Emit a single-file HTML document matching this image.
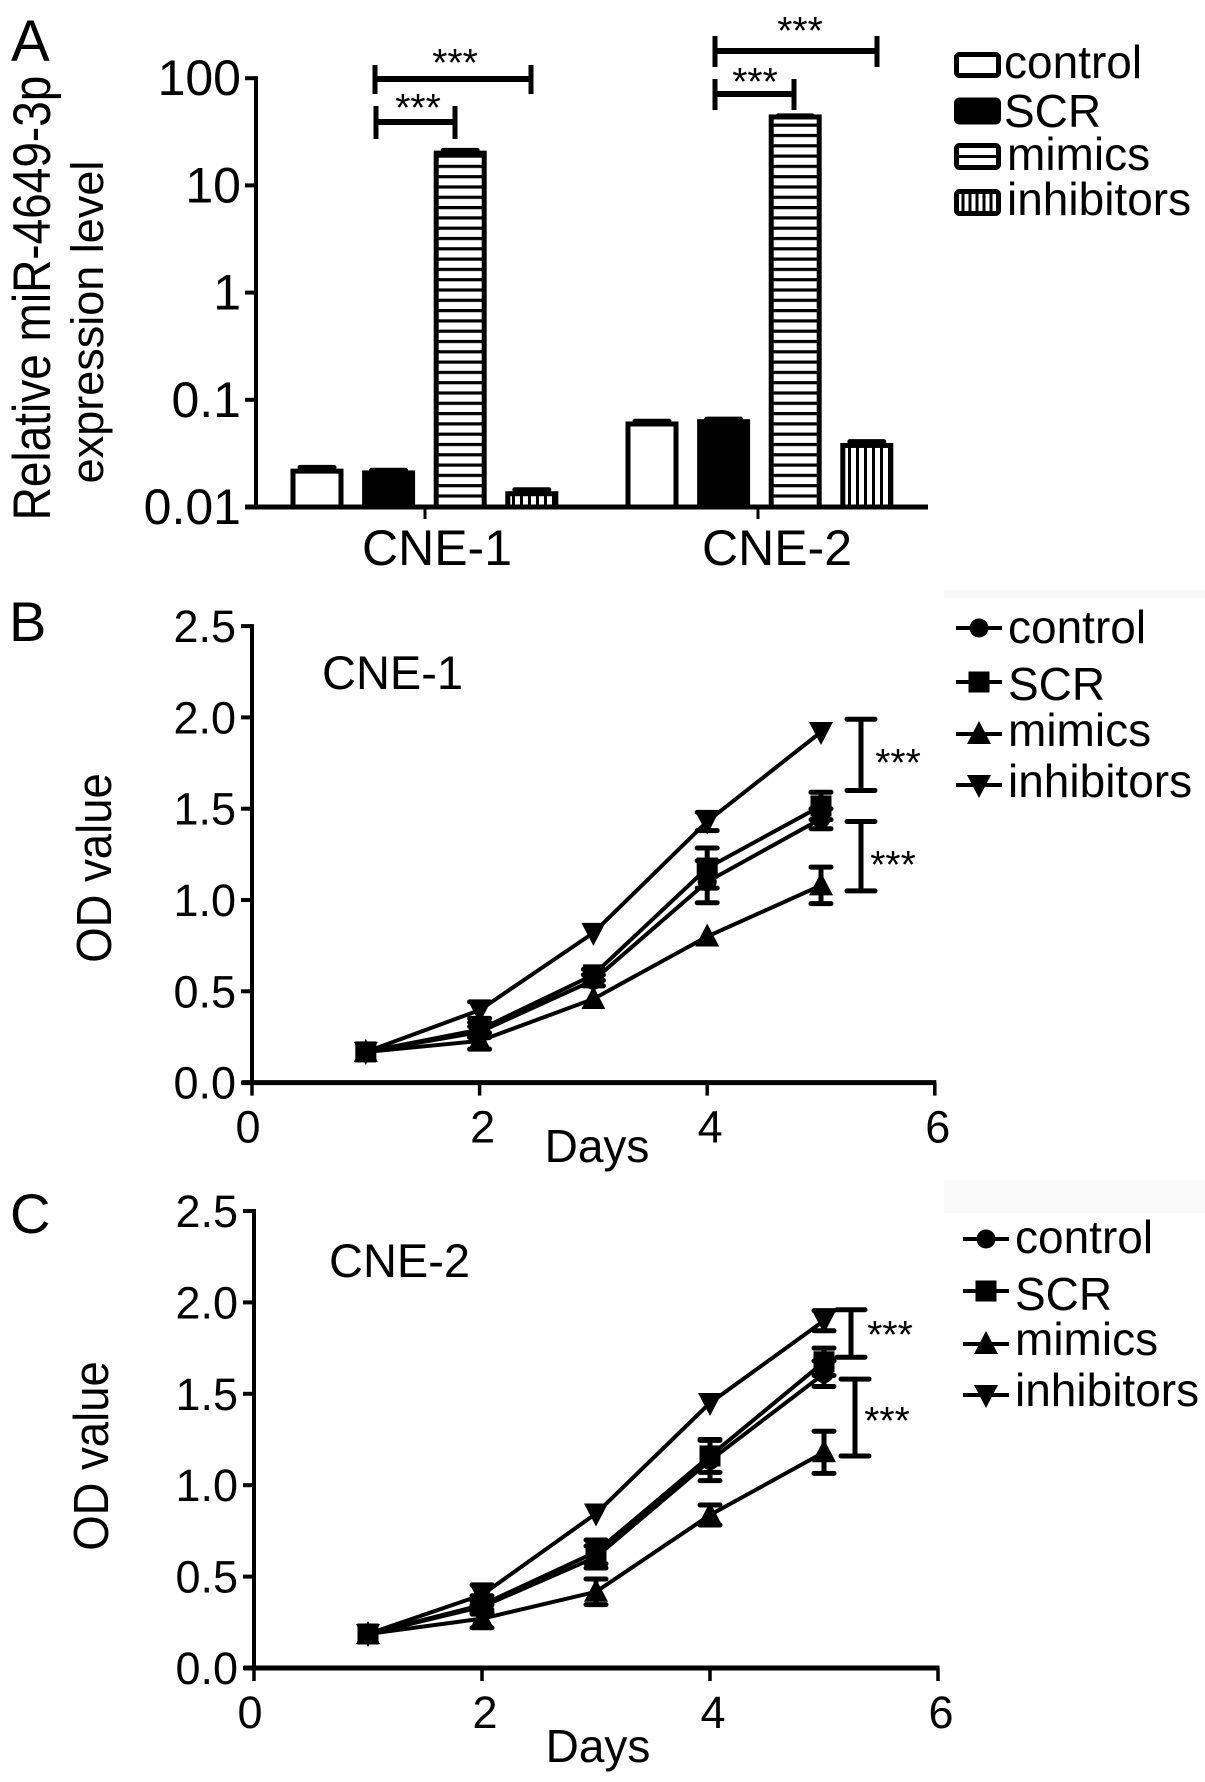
<!DOCTYPE html>
<html lang="en">
<head>
<meta charset="utf-8">
<title>miR-4649-3p expression and OD value charts</title>
<style>
  html, body { margin: 0; padding: 0; background: #fff; }
  body { width: 1205px; height: 1782px; overflow: hidden; }
  svg { display: block; }
  text { font-family: "Liberation Sans", Arial, sans-serif; fill: #000; }
</style>
</head>
<body>
<svg id="figure" xmlns="http://www.w3.org/2000/svg" width="1205" height="1782" viewBox="0 0 1205 1782">
  <defs>
    <pattern id="hatch-h" patternUnits="userSpaceOnUse" width="10" height="10.3">
      <rect width="10" height="10.3" fill="#fff"/>
      <rect width="10" height="3.2" fill="#000"/>
    </pattern>
    <pattern id="hatch-v" patternUnits="userSpaceOnUse" width="8" height="10">
      <rect width="8" height="10" fill="#fff"/>
      <rect width="3" height="10" fill="#000"/>
    </pattern>
  </defs>
  <rect width="1205" height="1782" fill="#fff"/>
  <rect x="944" y="590" width="261" height="8" fill="#f9f9f9"/>
  <rect x="944" y="1180" width="261" height="33" fill="#fafafa"/>

  <g id="panel-a">
    <text x="11" y="61" font-size="58">A</text>
    <text transform="translate(50,298) rotate(-90) scale(1,1.14)" font-size="46" text-anchor="middle">Relative miR-4649-3p</text>
    <text transform="translate(103,322) rotate(-90)" font-size="45" text-anchor="middle">expression level</text>

    <g stroke="#000" fill="none">
      <path stroke-width="5" d="M375 65V94M531 65V94"/>
      <path stroke-width="6" d="M375 79H531"/>
      <path stroke-width="5" d="M376 106V139M455 106V139"/>
      <path stroke-width="6" d="M376 122H455"/>
      <path stroke-width="5" d="M715 36V67M877 36V67"/>
      <path stroke-width="6" d="M715 51H877"/>
      <path stroke-width="5" d="M715 79V110M794 79V110"/>
      <path stroke-width="6" d="M715 94H794"/>
    </g>
    <text x="455" y="76" font-size="39" text-anchor="middle">***</text>
    <text x="418" y="121" font-size="39" text-anchor="middle">***</text>
    <text x="800" y="44" font-size="39" text-anchor="middle">***</text>
    <text x="755" y="95" font-size="39" text-anchor="middle">***</text>

    <g>
      <g>
        <rect x="956.5" y="54.5" width="42" height="21" rx="3" fill="#fff" stroke="#000" stroke-width="5"/>
        <text x="1004" y="78" font-size="46">control</text>
      </g>
      <g>
        <rect x="956.5" y="100" width="42" height="22" rx="3" fill="#000" stroke="#000" stroke-width="5"/>
        <text x="1004" y="127" font-size="46">SCR</text>
      </g>
      <g>
        <rect x="956.5" y="145.5" width="42" height="22" rx="3" fill="#fff" stroke="#000" stroke-width="5"/>
        <path d="M957 156.5H998" stroke="#000" stroke-width="3"/>
        <text x="1007" y="170" font-size="46">mimics</text>
      </g>
      <g>
        <rect x="956.5" y="191.5" width="42" height="22" rx="3" fill="#fff" stroke="#000" stroke-width="5"/>
        <path d="M963 192V213M970 192V213M977 192V213M984 192V213M991 192V213" stroke="#000" stroke-width="3"/>
        <text x="1007" y="215" font-size="46">inhibitors</text>
      </g>
    </g>
  </g>

  <g id="panel-b">
    <text x="9" y="641" font-size="56">B</text>
    <text transform="translate(111,868) rotate(-90) scale(1,1.08)" font-size="45.5" text-anchor="middle">OD value</text>
    <text x="597" y="1162" font-size="46" text-anchor="middle">Days</text>
    <text x="322" y="689" font-size="47">CNE-1</text>
    <text x="898" y="776" font-size="39" text-anchor="middle">***</text>
    <text x="893" y="878" font-size="39" text-anchor="middle">***</text>
  </g>

  <g id="panel-c">
    <text x="10" y="1233" font-size="56">C</text>
    <text transform="translate(108,1456) rotate(-90) scale(1,1.08)" font-size="45.5" text-anchor="middle">OD value</text>
    <text x="598" y="1762" font-size="46" text-anchor="middle">Days</text>
    <text x="329" y="1277" font-size="47">CNE-2</text>
    <text x="890" y="1348" font-size="39" text-anchor="middle">***</text>
    <text x="887" y="1434" font-size="39" text-anchor="middle">***</text>
  </g>
</svg>

<script>
// ---- Panel A data ----
const groupsA = ['CNE-1', 'CNE-2'];
const seriesA = ['control', 'SCR', 'mimics', 'inhibitors'];
const controlA = [0.0216, 0.0595];
const scrA = [0.0208, 0.0625];
const mimicsA = [20.0, 43.5];
const inhibitorsA = [0.0133, 0.0375];
const controlAErr = [0.0018, 0.0035];
const scrAErr = [0.0012, 0.0035];
const mimicsAErr = [1.2, 1.0];
const inhibitorsAErr = [0.0012, 0.0032];
const ticksA = [100, 10, 1, 0.1, 0.01];
const tickLabelsA = ['100', '10', '1', '0.1', '0.01'];

// ---- Shared line chart axes ----
const days = [1, 2, 3, 4, 5];
const xTicks = [0, 2, 4, 6];
const xTickLabels = ['0', '2', '4', '6'];
const yTicks = [0, 0.5, 1, 1.5, 2, 2.5];
const yTickLabels = ['0.0', '0.5', '1.0', '1.5', '2.0', '2.5'];
const lineSeries = ['inhibitors', 'mimics', 'control', 'SCR'];

// ---- Panel B data (CNE-1) ----
const controlB = [0.168, 0.277, 0.56, 1.10, 1.445];
const scrB = [0.168, 0.29, 0.59, 1.175, 1.515];
const mimicsB = [0.168, 0.228, 0.458, 0.80, 1.08];
const inhibitorsB = [0.168, 0.397, 0.82, 1.43, 1.92];
const controlBErr = [0, 0.03, 0.03, 0.115, 0.055];
const scrBErr = [0, 0.04, 0.03, 0.11, 0.075];
const mimicsBErr = [0, 0.045, 0, 0, 0.10];
const inhibitorsBErr = [0, 0.045, 0, 0.05, 0];
const bracketsB = [[1.99, 1.60], [1.43, 1.05]];

// ---- Panel C data (CNE-2) ----
const controlC = [0.186, 0.335, 0.607, 1.135, 1.61];
const scrC = [0.186, 0.345, 0.635, 1.16, 1.675];
const mimicsC = [0.186, 0.27, 0.417, 0.837, 1.18];
const inhibitorsC = [0.186, 0.40, 0.845, 1.45, 1.90];
const controlCErr = [0, 0.03, 0.06, 0.11, 0.07];
const scrCErr = [0, 0.05, 0.065, 0.09, 0.075];
const mimicsCErr = [0, 0.05, 0.07, 0.055, 0.115];
const inhibitorsCErr = [0, 0.055, 0, 0, 0.055];
const bracketsC = [[1.96, 1.70], [1.58, 1.16]];

const NS = 'http://www.w3.org/2000/svg';
function make(tag, attrs, parent) {
  const node = document.createElementNS(NS, tag);
  Object.keys(attrs).forEach(function (k) { node.setAttribute(k, attrs[k]); });
  parent.appendChild(node);
  return node;
}
function slug(s) { return String(s).toLowerCase().replace(/[^a-z0-9]+/g, '-'); }

// ---- Panel A ----
(function drawPanelA() {
  const root = document.getElementById('panel-a');
  const yScale = function (v) { return 507 - (Math.log10(v) + 2) * 107.2; };
  const barWidth = 50;
  const barX = function (g, s) { return 292 + g * 335 + s * 71.6; };
  const values = [controlA, scrA, mimicsA, inhibitorsA];
  const errors = [controlAErr, scrAErr, mimicsAErr, inhibitorsAErr];
  const fills = ['#fff', '#000', 'url(#hatch-h)', 'url(#hatch-v)'];

  groupsA.forEach(function (group, g) {
    seriesA.forEach(function (name, s) {
      const x = barX(g, s);
      const y = yScale(values[s][g]);
      const errTop = yScale(values[s][g] + errors[s][g]);
      const err = make('path', { d: 'M' + (x + barWidth / 2) + ' ' + y + 'V' + errTop + 'M' + (x + barWidth / 2 - 17) + ' ' + errTop + 'H' + (x + barWidth / 2 + 17), stroke: '#000', 'stroke-width': 5, 'stroke-linecap': 'round', fill: 'none' }, root);
      
      
      const bar = make('rect', { x: x + 1, y: y, width: barWidth - 2, height: 507 - y, fill: fills[s], stroke: '#000', 'stroke-width': 5 }, root);
      
      
    });
    const tickX = 425 + g * 333;
    const tick = make('line', { x1: tickX, x2: tickX, y1: 507, y2: 519, stroke: '#000', 'stroke-width': 3 }, root);
    
    
    const label = make('text', { x: 437 + g * 340, y: 565, 'font-size': 50, 'text-anchor': 'middle' }, root);
    label.textContent = group;
    
    
  });

  ticksA.forEach(function (t, i) {
    const y = yScale(t);
    const tick = make('line', { x1: 245, x2: 256, y1: y, y2: y, stroke: '#000', 'stroke-width': 4 }, root);
    
    
    const label = make('text', { x: 241, y: y + 17, 'font-size': 50, 'text-anchor': 'end' }, root);
    label.textContent = tickLabelsA[i];
    
    
  });

  const yAxis = make('line', { x1: 256, x2: 256, y1: yScale(100) - 2, y2: 509, stroke: '#000', 'stroke-width': 4 }, root);
  
  
  const xAxis = make('line', { x1: 245, x2: 928, y1: 507, y2: 507, stroke: '#000', 'stroke-width': 5 }, root);
  
  
})();

// ---- Line chart panels ----
function marker(kind, cx, cy, parent) {
  const r = 10.5;
  const t = 12;
  let node;
  if (kind === 'SCR') {
    node = make('rect', { x: cx - r, y: cy - r, width: 2 * r, height: 2 * r, fill: '#000' }, parent);
  } else if (kind === 'control') {
    node = make('circle', { cx: cx, cy: cy, r: 9.5, fill: '#000' }, parent);
  } else if (kind === 'mimics') {
    node = make('polygon', { points: cx + ',' + (cy - t - 1) + ' ' + (cx + t) + ',' + (cy + t - 2) + ' ' + (cx - t) + ',' + (cy + t - 2), fill: '#000' }, parent);
  } else {
    node = make('polygon', { points: cx + ',' + (cy + t + 1) + ' ' + (cx + t) + ',' + (cy - t + 2) + ' ' + (cx - t) + ',' + (cy - t + 2), fill: '#000' }, parent);
  }
  return node;
}

function drawLinePanel(cfg) {
  const root = document.getElementById(cfg.rootId);
  const xScale = cfg.xScale;
  const yScale = cfg.yScale;

  cfg.seriesValues.forEach(function (vals, s) {
    const name = lineSeries[s];
    const group = make('g', {}, root);
    
    
    const pts = vals.map(function (v, i) { return xScale(days[i]) + ',' + yScale(v); }).join(' ');
    const line = make('polyline', { points: pts, fill: 'none', stroke: '#000', 'stroke-width': 4 }, group);
    
    
    vals.forEach(function (v, i) {
      const x = xScale(days[i]);
      const e = cfg.seriesErrors[s][i];
      if (e > 0) {
        const yUp = yScale(v + e);
        const yDown = yScale(v - e);
        const err = make('path', { d: 'M' + x + ' ' + yUp + 'V' + yDown + 'M' + (x - 10) + ' ' + yUp + 'H' + (x + 10) + 'M' + (x - 10) + ' ' + yDown + 'H' + (x + 10), fill: 'none', stroke: '#000', 'stroke-width': 5, 'stroke-linecap': 'round' }, group);
        
        
      }
      const m = marker(name, x, yScale(v), group);
      
      
    });
  });

  cfg.brackets.forEach(function (b, i) {
    const x = cfg.bracketX[i];
    const y1 = yScale(b[0]);
    const y2 = yScale(b[1]);
    const br = make('path', { d: 'M' + x + ' ' + y1 + 'V' + y2 + 'M' + (x - 14) + ' ' + y1 + 'H' + (x + 14) + 'M' + (x - 14) + ' ' + y2 + 'H' + (x + 14), fill: 'none', stroke: '#000', 'stroke-width': 5, 'stroke-linecap': 'round' }, root);
    
    
  });

  yTicks.forEach(function (t, i) {
    const y = yScale(t);
    const tick = make('line', { x1: cfg.axisX - 11, x2: cfg.axisX, y1: y, y2: y, stroke: '#000', 'stroke-width': 4 }, root);
    
    
    const label = make('text', { x: cfg.axisX - 16, y: y + 16, 'font-size': 45, 'text-anchor': 'end' }, root);
    label.textContent = yTickLabels[i];
    
    
  });

  xTicks.forEach(function (t, i) {
    const x = xScale(t);
    const tick = make('line', { x1: x, x2: x, y1: yScale(0), y2: yScale(0) + 13, stroke: '#000', 'stroke-width': 3.5 }, root);
    
    
    const label = make('text', { x: x + (i === 0 ? -4 : 3), y: yScale(0) + 60, 'font-size': 45, 'text-anchor': 'middle' }, root);
    label.textContent = xTickLabels[i];
    
    
  });

  const yAxis = make('line', { x1: cfg.axisX, x2: cfg.axisX, y1: yScale(2.5) - 2, y2: yScale(0) + 2, stroke: '#000', 'stroke-width': 4 }, root);
  
  
  const xAxis = make('line', { x1: cfg.axisX - 10, x2: xScale(6) + 1.5, y1: yScale(0), y2: yScale(0), stroke: '#000', 'stroke-width': 5 }, root);
  
  

  const legendNames = ['control', 'SCR', 'mimics', 'inhibitors'];
  legendNames.forEach(function (name, i) {
    const entry = make('g', {}, root);
    
    
    const y = cfg.legendY[i];
    const ln = make('line', { x1: cfg.legendX, x2: cfg.legendX + 46, y1: y, y2: y, stroke: '#000', 'stroke-width': 4 }, entry);
    
    
    const m = marker(name, cfg.legendX + 23, y, entry);
    
    
    const label = make('text', { x: cfg.legendX + 52, y: cfg.legendBase[i], 'font-size': 46 }, entry);
    label.textContent = name;
    
    
  });
}

drawLinePanel({
  id: 'b',
  rootId: 'panel-b',
  axisX: 252,
  xScale: function (d) { return 252 + d * 113.8; },
  yScale: function (v) { return 1082.6 - v * 182.6; },
  seriesValues: [inhibitorsB, mimicsB, controlB, scrB],
  seriesErrors: [inhibitorsBErr, mimicsBErr, controlBErr, scrBErr],
  brackets: bracketsB,
  bracketX: [861, 861],
  legendX: 956,
  legendY: [628, 682, 734, 785],
  legendBase: [643, 700, 746, 797]
});

drawLinePanel({
  id: 'c',
  rootId: 'panel-c',
  axisX: 254,
  xScale: function (d) { return 254 + d * 114; },
  yScale: function (v) { return 1668 - v * 182.8; },
  seriesValues: [inhibitorsC, mimicsC, controlC, scrC],
  seriesErrors: [inhibitorsCErr, mimicsCErr, controlCErr, scrCErr],
  brackets: bracketsC,
  bracketX: [851, 855],
  legendX: 963,
  legendY: [1239, 1291, 1344, 1395],
  legendBase: [1253, 1310, 1355, 1406]
});
</script>
</body>
</html>
